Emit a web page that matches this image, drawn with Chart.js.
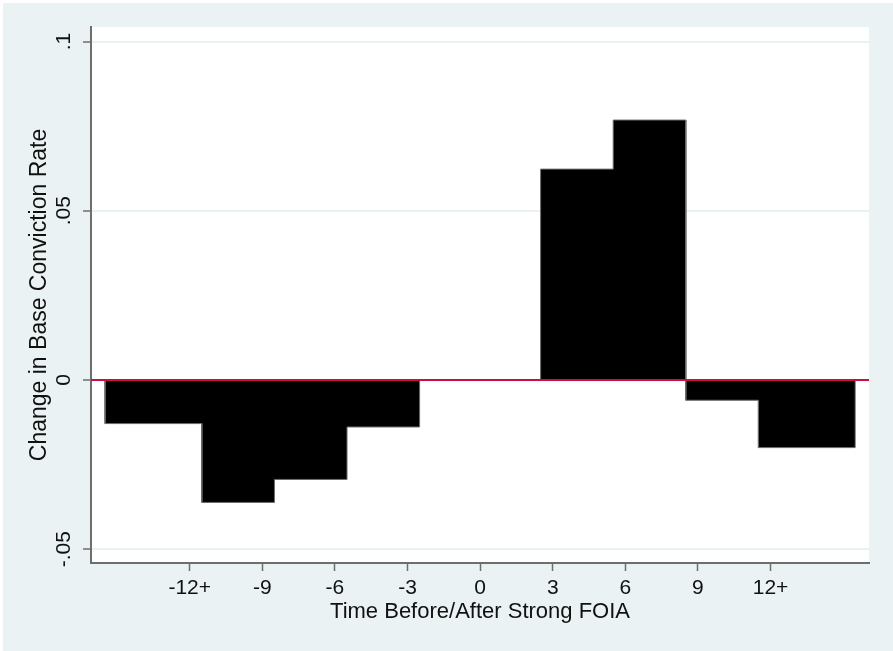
<!DOCTYPE html>
<html><head><meta charset="utf-8">
<script src="https://cdn.jsdelivr.net/npm/chart.js@4"></script>
<style>html,body{margin:0;padding:0;background:#fff;} #wrap{width:893px;height:651px;position:relative;}</style>
</head><body><div id="wrap"><canvas id="c" width="893" height="651"></canvas></div>
<script>
// Data
const barStarts = [-15.5, -11.5, -8.5, -5.5, 2.5, 5.5, 8.5, 11.5];
const barEnds   = [-11.5, -8.5, -5.5, -2.5, 5.5, 8.5, 11.5, 15.5];
const barValues = [-0.0129, -0.0362, -0.0294, -0.0139, 0.0623, 0.0768, -0.0060, -0.0200];
const xTickValues = [-12, -9, -6, -3, 0, 3, 6, 9, 12];
const xTickLabels = ['-12+', '-9', '-6', '-3', '0', '3', '6', '9', '12+'];
const yTickValues = [-0.05, 0, 0.05, 0.1];
const yTickLabels = ['-.05', '0', '.05', '.1'];
const xRange = [-16.08, 16.07];
const yRange = [-0.0541, 0.1043];
const referenceValue = 0;
const xTitle = 'Time Before/After Strong FOIA';
const yTitle = 'Change in Base Conviction Rate';

const FONT = "'Liberation Sans', Arial, sans-serif";
const AXIS = '#6E6E6E';

// Outline of the bars as one step path (shared edges between adjacent bars are not outlined)
const barPath = [];
barValues.forEach((v, i) => {
  if (i === 0 || barStarts[i] !== barEnds[i - 1]) barPath.push({x: barStarts[i], y: 0});
  barPath.push({x: barStarts[i], y: v});
  barPath.push({x: barEnds[i], y: v});
  if (i === barValues.length - 1 || barEnds[i] !== barStarts[i + 1]) barPath.push({x: barEnds[i], y: 0});
});

const barDataset = {
  data: barPath,
  backgroundColor: '#000000',
  borderColor: '#6a6a6a',
  borderWidth: 1,
  fill: 'origin',
  pointRadius: 0,
  tension: 0
};

const refLine = {
  data: [{x: xRange[0], y: referenceValue}, {x: xRange[1], y: referenceValue}],
  borderColor: '#C8123C',
  borderWidth: 2,
  pointRadius: 0,
  fill: false,
  order: -1
};

const bgPlugin = {
  id: 'bg',
  beforeDraw(chart) {
    const ctx = chart.ctx, a = chart.chartArea;
    ctx.save();
    ctx.fillStyle = '#ffffff';
    ctx.fillRect(0, 0, chart.width, chart.height);
    ctx.fillStyle = '#EAF2F3';
    ctx.fillRect(3, 3, chart.width - 3, chart.height - 3);
    ctx.fillStyle = '#ffffff';
    ctx.fillRect(a.left, a.top, a.right - a.left, a.bottom - a.top);
    ctx.restore();
  }
};

new Chart(document.getElementById('c'), {
  type: 'line',
  data: { datasets: [refLine, barDataset] },
  plugins: [bgPlugin],
  options: {
    responsive: false,
    animation: false,
    layout: { padding: { top: 27, right: 24, left: 0, bottom: 0 } },
    plugins: { legend: { display: false }, tooltip: { enabled: false } },
    scales: {
      x: {
        type: 'linear',
        min: xRange[0], max: xRange[1],
        afterBuildTicks: s => { s.ticks = xTickValues.map(v => ({value: v})); },
        afterFit: s => { s.height = 88; },
        ticks: {
          color: '#111',
          font: { family: FONT, size: 21 },
          padding: 5,
          maxRotation: 0, minRotation: 0,
          callback: (v) => { const i = xTickValues.indexOf(v); return i >= 0 ? xTickLabels[i] : ''; }
        },
        grid: { drawOnChartArea: false, drawTicks: true, tickLength: 8, tickColor: AXIS, tickWidth: 1.5, color: AXIS },
        border: { display: true, color: AXIS, width: 2 },
        title: { display: true, text: xTitle, color: '#111', font: { family: FONT, size: 22 }, padding: { top: 0, bottom: 26 } }
      },
      y: {
        type: 'linear',
        min: yRange[0], max: yRange[1],
        afterBuildTicks: s => { s.ticks = yTickValues.map(v => ({value: v})); },
        afterFit: s => { s.width = 91; },
        ticks: {
          color: '#111',
          font: { family: FONT, size: 21 },
          padding: 1,
          minRotation: 90, maxRotation: 90,
          crossAlign: 'center',
          callback: (v) => { const i = yTickValues.findIndex(t => Math.abs(t - v) < 1e-9); return i >= 0 ? yTickLabels[i] : ''; }
        },
        grid: {
          drawOnChartArea: true, drawTicks: true, tickLength: 8, tickColor: AXIS, tickWidth: 1.5,
          lineWidth: 2,
          color: c => (c.tick && Math.abs(c.tick.value - referenceValue) < 1e-9) ? 'rgba(0,0,0,0)' : '#EAF1F3'
        },
        border: { display: true, color: AXIS, width: 2 },
        title: { display: true, text: yTitle, color: '#111', font: { family: FONT, size: 23 }, padding: { top: 26, bottom: 0 } }
      }
    }
  }
});
</script>
</body></html>
